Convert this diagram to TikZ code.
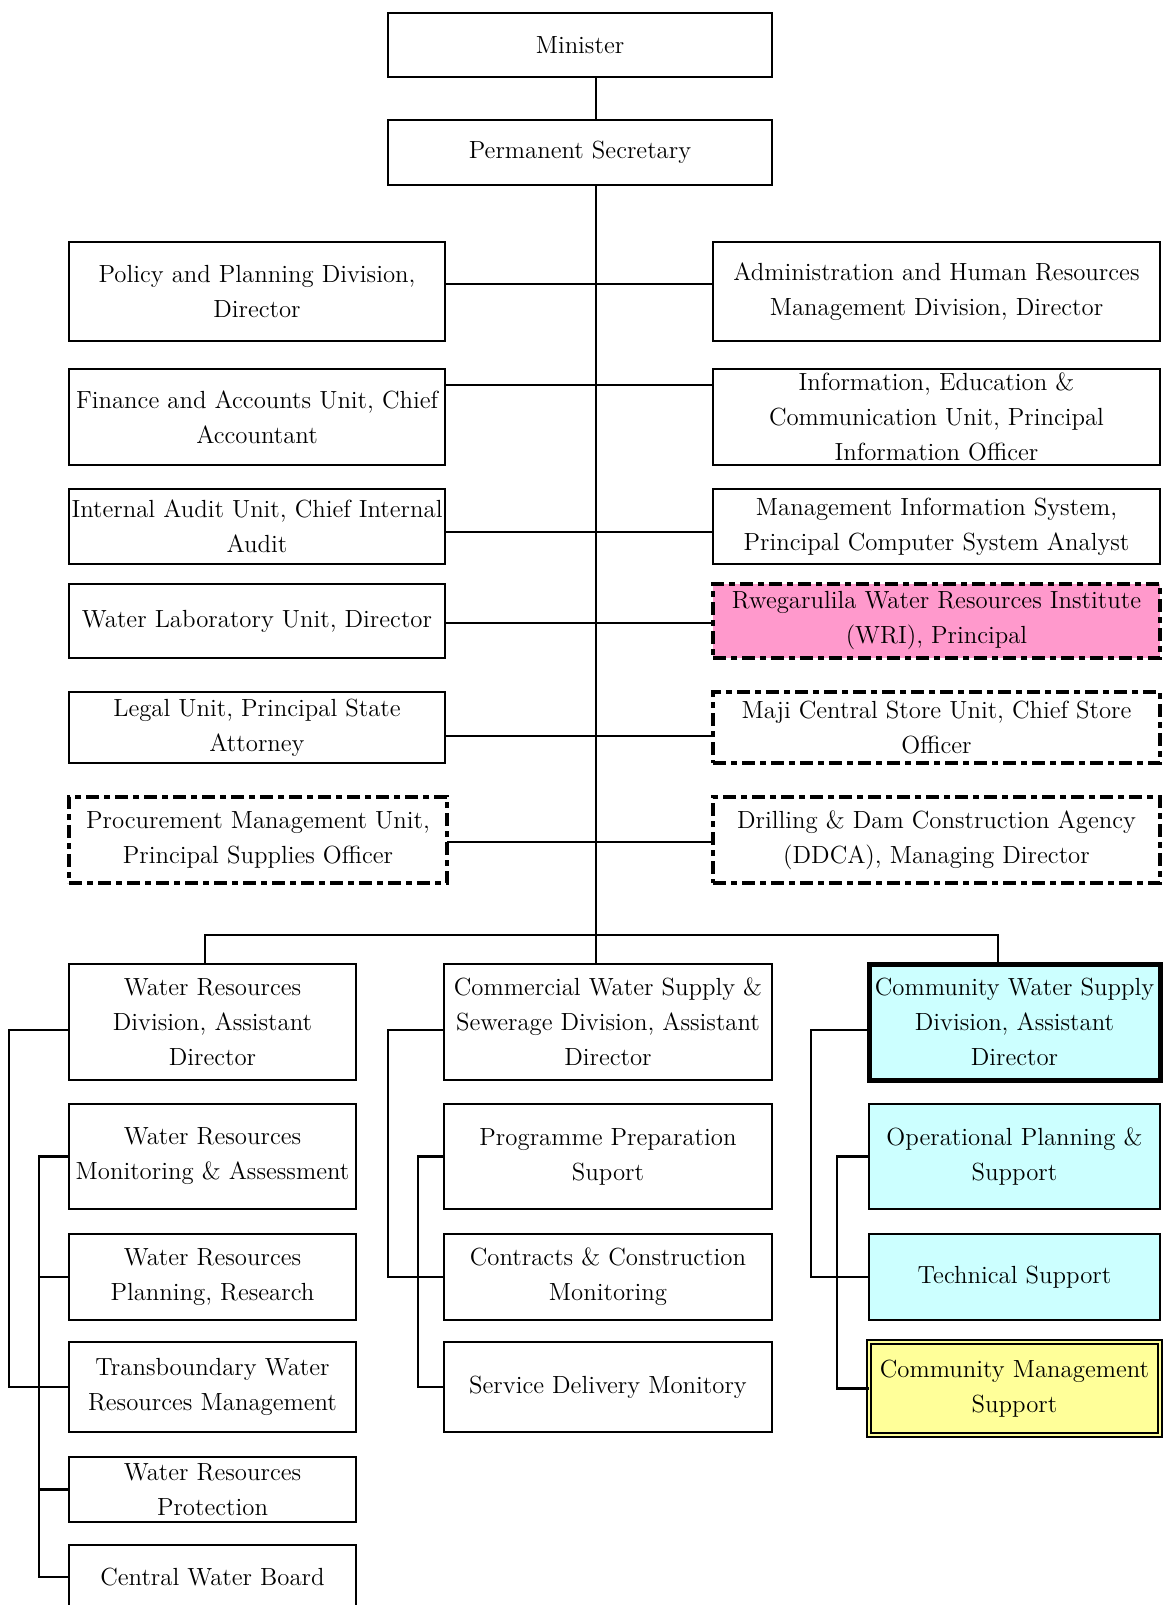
\documentclass[tikz,border=0pt]{standalone}
\usepackage{xcolor}
\definecolor{pinkfill}{HTML}{FF99CC}
\definecolor{cyanfill}{HTML}{CCFFFF}
\definecolor{yellowfill}{HTML}{FFFF99}
% A box given by its corners (x1,y1)-(x2,y2) in picture units
\newcommand\orgbox[7]{%
  \node[#2, minimum width={(#5-#3)*0.5pt}, minimum height={(#6-#4)*0.5pt}]
    (#1) at ({(#3+#5)/2},{(#4+#6)/2}) {#7};}
\begin{document}
\begin{tikzpicture}[x=0.5pt, y=-0.5pt,
  box/.style={draw, line width=1.4pt, fill=white, inner sep=0pt, outer sep=0pt,
    align=center, font=\fontsize{12.4}{17.5}\selectfont},
  cyanbox/.style={box, fill=cyanfill},
  thickbox/.style={box, fill=cyanfill, line width=2.5pt},
  dashbox/.style={box, line width=2pt,
    dash pattern=on 6.5pt off 2.5pt on 3pt off 2.5pt},
  pinkbox/.style={dashbox, fill=pinkfill},
  dblbox/.style={box, fill=yellowfill, line width=1.15pt,
    double=yellowfill, double distance=0.85pt},
  link/.style={line width=1.2pt}]
\useasboundingbox[fill=white] (0,0) rectangle (1162,1605);

% top of the hierarchy
\orgbox{min}{box}{388}{13}{772}{77}{Minister}
\orgbox{ps}{box}{388}{120}{772}{185}{Permanent Secretary}

% units attached to the Permanent Secretary
\orgbox{pol}{box}{69}{242}{445}{341}{Policy and Planning Division,\\Director}
\orgbox{adm}{box}{713}{242}{1160}{341}{Administration and Human Resources\\Management Division, Director}
\orgbox{fin}{box}{69}{369}{445}{465}{Finance and Accounts Unit, Chief\\Accountant}
\orgbox{iec}{box}{713}{369}{1160}{465}{Information, Education \&\\Communication Unit, Principal\\Information Officer}
\orgbox{aud}{box}{69}{489}{445}{564}{Internal Audit Unit, Chief Internal\\Audit}
\orgbox{mis}{box}{713}{489}{1160}{564}{Management Information System,\\Principal Computer System Analyst}
\orgbox{lab}{box}{69}{584}{445}{658}{Water Laboratory Unit, Director}
\orgbox{wri}{pinkbox}{713}{584}{1160}{658}{Rwegarulila Water Resources Institute\\(WRI), Principal}
\orgbox{leg}{box}{69}{692}{445}{763}{Legal Unit, Principal State\\Attorney}
\orgbox{mcs}{dashbox}{713}{692}{1160}{763}{Maji Central Store Unit, Chief Store\\Officer}
\orgbox{pmu}{dashbox}{69}{797}{447}{883}{Procurement Management Unit,\\Principal Supplies Officer}
\orgbox{ddc}{dashbox}{713}{797}{1160}{883}{Drilling \& Dam Construction Agency\\(DDCA), Managing Director}

% divisions
\orgbox{wrd}{box}{69}{964}{356}{1080}{Water Resources\\Division, Assistant\\Director}
\orgbox{com}{box}{444}{964}{772}{1080}{Commercial Water Supply \&\\Sewerage Division, Assistant\\Director}
\orgbox{cws}{thickbox}{869}{964}{1160}{1080}{Community Water Supply\\Division, Assistant\\Director}

% sections of the Water Resources Division
\orgbox{wrm}{box}{69}{1104}{356}{1209}{Water Resources\\Monitoring \& Assessment}
\orgbox{wrp}{box}{69}{1234}{356}{1320}{Water Resources\\Planning, Research}
\orgbox{tbw}{box}{69}{1342}{356}{1432}{Transboundary Water\\Resources Management}
\orgbox{wpr}{box}{69}{1457}{356}{1522}{Water Resources\\Protection}
\orgbox{cwb}{box}{69}{1545}{356}{1609}{Central Water Board}

% sections of the Commercial Water Supply & Sewerage Division
\orgbox{pps}{box}{444}{1104}{772}{1209}{Programme Preparation\\Suport}
\orgbox{ccm}{box}{444}{1234}{772}{1320}{Contracts \& Construction\\Monitoring}
\orgbox{sdm}{box}{444}{1342}{772}{1432}{Service Delivery Monitory}

% sections of the Community Water Supply Division
\orgbox{ops}{cyanbox}{869}{1104}{1160}{1209}{Operational Planning \&\\Support}
\orgbox{tsp}{cyanbox}{869}{1234}{1160}{1320}{Technical Support}
\orgbox{cms}{dblbox}{869}{1342}{1160}{1435}{Community Management\\Support}

% main trunk and the row connectors
\coordinate (t1) at (596,284);
\coordinate (t2) at (596,385);
\coordinate (t3) at (596,532);
\coordinate (t4) at (596,623);
\coordinate (t5) at (596,736);
\coordinate (t6) at (596,842);
\coordinate (busL) at (205,935);
\coordinate (busR) at (998,935);
\draw[link] (min.south -| t1) -- (ps.north -| t1);
\draw[link] (ps.south -| t1) -- (com.north -| t1);
\draw[link] (pol.east |- t1) -- (adm.west |- t1);
\draw[link] (fin.east |- t2) -- (iec.west |- t2);
\draw[link] (aud.east |- t3) -- (mis.west |- t3);
\draw[link] (lab.east |- t4) -- (wri.west |- t4);
\draw[link] (leg.east |- t5) -- (mcs.west |- t5);
\draw[link] (pmu.east |- t6) -- (ddc.west |- t6);

% bus to the divisions
\draw[link] (wrd.north -| busL) -- (busL) -- (busR) -- (cws.north -| busR);

% brackets of the Water Resources Division
\draw[link] ([yshift=-4pt]wrd.west) -- ++(-60,0) |- (tbw.west);
\draw[link] (wrm.west) -- ++(-30,0) coordinate (i1) |- (cwb.west);
\draw[link] (wrp.west) -- (wrp.west -| i1);
\draw[link] (tbw.west) -- (tbw.west -| i1);
\draw[link] (wpr.west) -- (wpr.west -| i1);

% brackets of the Commercial Water Supply & Sewerage Division
\draw[link] ([yshift=-4pt]com.west) -- ++(-56,0) |- (ccm.west);
\draw[link] (pps.west) -- ++(-26,0) coordinate (i2) |- (sdm.west);
\draw[link] (ccm.west) -- (ccm.west -| i2);

% brackets of the Community Water Supply Division
\draw[link] ([yshift=-4pt]cws.west) -- ++(-58,0) |- (tsp.west);
\draw[link] (ops.west) -- ++(-32,0) coordinate (i3) |- (cms.west);
\draw[link] (tsp.west) -- (tsp.west -| i3);
\end{tikzpicture}
\end{document}
